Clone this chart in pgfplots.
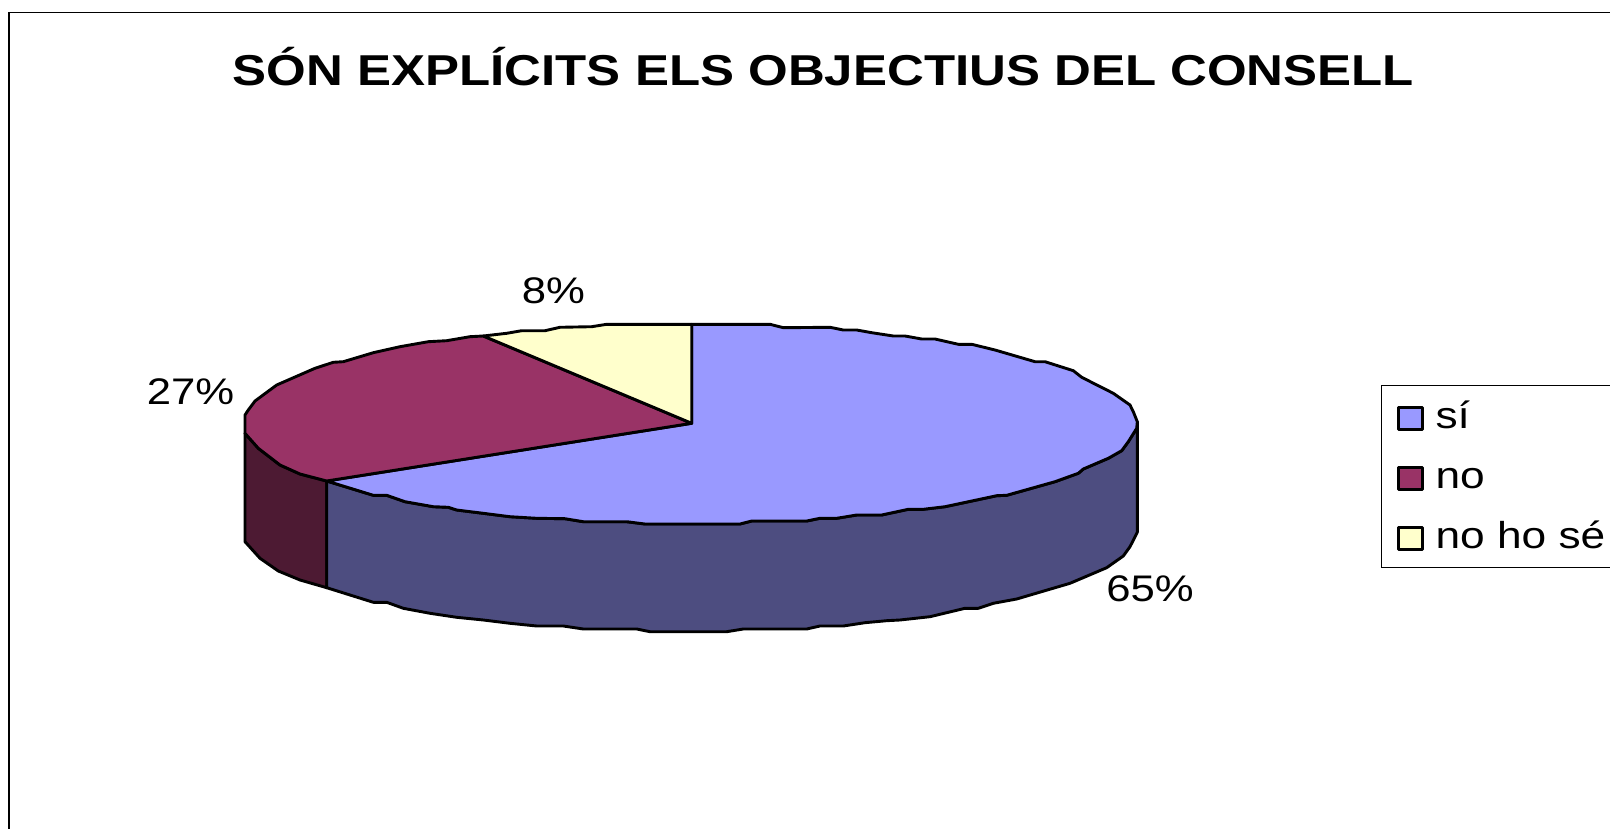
\documentclass[border=0pt]{standalone}
\usepackage{fontspec}
\setmainfont[FakeStretch=1.18]{Liberation Sans}
\usepackage{pgfplots}
\pgfplotsset{compat=1.18}
\definecolor{siTop}{HTML}{9999FF}
\definecolor{siSide}{HTML}{4D4D80}
\definecolor{noTop}{HTML}{993366}
\definecolor{noSide}{HTML}{4D1A33}
\definecolor{nsTop}{HTML}{FFFFCC}
\tikzset{pie/.style={draw=black,line width=2.9pt,line join=round}}
\begin{document}
\begin{tikzpicture}
\useasboundingbox (0,0) rectangle (1610pt,829pt);
\begin{axis}[
  at={(0,0)},anchor=south west,
  scale only axis,width=1610pt,height=829pt,
  xmin=0,xmax=1610,ymin=0,ymax=829,y dir=reverse,
  hide axis,
  legend style={at={(axis cs:1380.7,385.3)},anchor=north west,draw=black,line width=1pt,
    inner xsep=16pt,inner ysep=17pt,fill=white,row sep=31.3pt,column sep=0pt,
    nodes={font=\fontsize{37.5}{38}\selectfont,inner sep=0pt,text height=26pt,text depth=0pt,anchor=base west}},
  legend cell align=left,
  legend image code/.code={\draw[#1,line width=2.9pt,line join=round] (0pt,-1pt) rectangle (23.5pt,21pt); \path (35.5pt,0pt) circle (0pt);},
]
% frame
\addplot[forget plot,line width=1.2pt,no marks] coordinates {(9,840)(9,12.7)(1620,12.7)};
% dark side of "no"
\addplot[forget plot,pie,fill=noSide] coordinates {
(245,433.3)(258.3,448.3)(280,465)(300,474)(326.7,481)(326.7,587.7)(300,580)(278.3,571)(260,558.3)(245,541.7)} -- cycle;
% dark side of "si"
\addplot[forget plot,pie,fill=siSide] coordinates {
(326.7,481)(373.3,495.3)(386.7,495.3)(405,501.7)(433.3,506.7)(448.3,507.3)(456.7,510)(483.3,513.3)(510,516.7)(536.7,518.3)(565,518.7)(583.3,521.7)(626.7,521.7)(645,524)(740,524)(751.7,521)(806.7,521)(820,518.3)(836.7,518.3)(856.7,515)(881.7,515)(908.3,509.3)(923.3,509.3)(945,506.7)(996.7,495.7)(1006.7,495.3)(1055,481.7)(1078.3,473.3)(1083.3,469)(1108.3,458.3)(1121.7,450.7)(1128.3,441.7)(1136.7,428.3)(1137.3,421.7)
(1137.3,532.3)(1130,546.7)(1123.3,556)(1106.7,567.7)(1070,583.3)(1016.7,599)(993.3,603.3)(978.3,608.3)(965,608.3)(930,616.7)(900,620)(886.7,620.7)(865,622.7)(843.3,626)(820,626)(806.7,629)(743.3,629)(726.7,631.7)(650,631.7)(636.7,629)(583.3,629)(563.3,626)(536.7,626)(510,623.3)(483.3,620)(456.7,617.3)(430,613.3)(403.3,608.3)(386.7,602.3)(373.3,602.3)(326.7,587.7)} -- cycle;
% top faces
\addplot[pie,fill=siTop] coordinates {
(691.7,423.3)(326.7,481)(373.3,495.3)(386.7,495.3)(405,501.7)(433.3,506.7)(448.3,507.3)(456.7,510)(483.3,513.3)(510,516.7)(536.7,518.3)(565,518.7)(583.3,521.7)(626.7,521.7)(645,524)(740,524)(751.7,521)(806.7,521)(820,518.3)(836.7,518.3)(856.7,515)(881.7,515)(908.3,509.3)(923.3,509.3)(945,506.7)(996.7,495.7)(1006.7,495.3)(1055,481.7)(1078.3,473.3)(1083.3,469)(1108.3,458.3)(1121.7,450.7)(1128.3,441.7)(1136.7,428.3)(1137.3,421.7)(1133.3,411.7)(1130,405)(1113.3,393.3)(1081.7,377.3)(1073.3,370.7)(1045,361.7)(1035,361.7)(995,350)(971.7,344.3)(958.3,344.3)(935,339)(921.7,339)(905,336)(893.3,336)(871.7,332.7)(856.7,330)(843.3,330)(830,327.3)(783.3,327.7)(770,324.3)(691.7,324.3)} -- cycle;
\addplot[pie,fill=noTop] coordinates {
(691.7,423.3)(483.3,336)(470,336.7)(446.7,340.7)(428.3,341.7)(400,346.7)(373.3,352.7)(343.3,361.7)(333.3,362.3)(315,368.3)(276.7,385)(255,401)(248.3,410)(245,415)(245,433.3)(258.3,448.3)(280,465)(300,474)(326.7,481)} -- cycle;
\addplot[pie,fill=nsTop] coordinates {
(691.7,423.3)(691.7,324.3)(606.7,324.3)(591.7,326.7)(560,327.3)(545,330.7)(521.7,330.7)(506.7,333.3)(483.3,336)} -- cycle;
\legend{sí,no,no ho sé}
% texts
\node[anchor=base,font=\fontsize{43.2}{44}\selectfont\bfseries,inner sep=0pt] at (axis cs:823.5,85.5) {SÓN EXPLÍCITS ELS OBJECTIUS DEL CONSELL};
\node[anchor=base,font=\fontsize{37}{38}\selectfont,inner sep=0pt] at (axis cs:553.5,303) {8\%};
\node[anchor=base,font=\fontsize{37}{38}\selectfont,inner sep=0pt] at (axis cs:190.5,404) {27\%};
\node[anchor=base,font=\fontsize{37}{38}\selectfont,inner sep=0pt] at (axis cs:1150,601.7) {65\%};
\end{axis}
\end{tikzpicture}
\end{document}
